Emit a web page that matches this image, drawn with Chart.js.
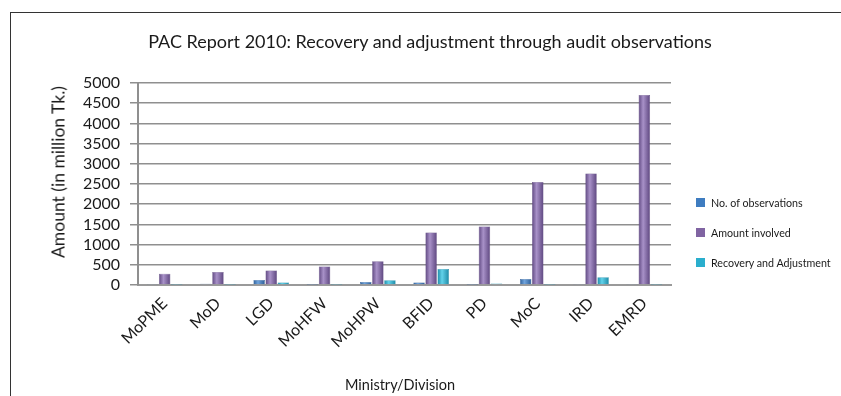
<!DOCTYPE html>
<html lang="en">
<head>
  <meta charset="UTF-8" />
  <title>PAC Report 2010</title>
  <script src="https://cdn.jsdelivr.net/npm/chart.js"></script>
  <style>
    html, body {
      margin: 0;
      padding: 0;
      background: #fff;
    }

    body {
      width: 841px;
      height: 396px;
      position: relative;
      overflow: hidden;
      font-family: Lato, 'Open Sans', sans-serif;
      color: #1a1a1a;
    }

    .frame {
      position: absolute;
      left: 10px;
      top: 12px;
      right: -2px;
      bottom: -2px;
      border-left: 1px solid #333;
      border-top: 1px solid #333;
    }

    #pacChart {
      position: absolute;
      left: 0;
      top: 0;
    }

    .title {
      position: absolute;
      left: 430px;
      top: 41px;
      transform: translate(-50%, -50%);
      white-space: nowrap;
      font-size: 18px;
    }

    .y-title {
      position: absolute;
      left: 58px;
      top: 172px;
      transform: translate(-50%, -50%) rotate(-90deg);
      white-space: nowrap;
      font-size: 17.5px;
    }

    .x-title {
      position: absolute;
      left: 400px;
      top: 384px;
      transform: translate(-50%, -50%);
      white-space: nowrap;
      font-size: 14.5px;
    }

    .legend {
      position: absolute;
      left: 696px;
      top: 187px;
      font-size: 10.7px;
    }

    .legend div {
      display: flex;
      align-items: center;
      height: 30px;
    }

    .legend span {
      width: 9px;
      height: 9px;
      margin-right: 6px;
    }
  </style>
</head>

<body>
  <div class="frame"></div>
  <canvas id="pacChart" width="841" height="396"></canvas>
  <div class="title">PAC Report 2010: Recovery and adjustment through audit observations</div>
  <div class="y-title">Amount (in million Tk.)</div>
  <div class="x-title">Ministry/Division</div>
  <div class="legend" id="legend"></div>

  <script>
    const categories = ["MoPME", "MoD", "LGD", "MoHFW", "MoHPW", "BFID", "PD", "MoC", "IRD", "EMRD"];
    const observations = [10, 30, 125, 5, 75, 60, 5, 150, 10, 25];
    const amountInvolved = [280, 320, 360, 460, 590, 1300, 1450, 2550, 2760, 4700];
    const recoveryAdjustment = [5, 5, 60, 5, 115, 395, 40, 5, 190, 5];
    const yMax = 5000;
    const yStep = 500;

    const CAT_PCT = 0.68;

    // shaded fill so the bars read a bit like the cylinders in the original
    function cylinder(base, light, dark) {
      return ctx => {
        const chart = ctx.chart;
        const xs = chart.scales.x;
        if (!xs || ctx.type !== "data" || !(xs.right > xs.left)) return base;
        const band = (xs.right - xs.left) / categories.length;
        const w = band * CAT_PCT / 3;
        const cx = xs.getPixelForValue(ctx.dataIndex) + (ctx.datasetIndex - 1) * w;
        if (!Number.isFinite(cx) || !Number.isFinite(w)) return base;
        const g = chart.ctx.createLinearGradient(cx - w / 2, 0, cx + w / 2, 0);
        g.addColorStop(0, dark);
        g.addColorStop(0.4, light);
        g.addColorStop(1, dark);
        return g;
      };
    }

    const series = [
      { label: "No. of observations", data: observations, color: "#3e7cc0", light: "#6fa3dc", dark: "#2a5a94" },
      { label: "Amount involved", data: amountInvolved, color: "#8064a2", light: "#a891c8", dark: "#5a437c" },
      { label: "Recovery and Adjustment", data: recoveryAdjustment, color: "#2aaecd", light: "#62d2ea", dark: "#1a86a3" }
    ];

    const ctx = document.getElementById("pacChart").getContext("2d");
    const chart = new Chart(ctx, {
      type: "bar",
      data: {
        labels: categories,
        datasets: series.map(s => ({
          label: s.label,
          data: s.data,
          backgroundColor: cylinder(s.color, s.light, s.dark),
          borderColor: s.dark,
          borderWidth: 0.5,
          categoryPercentage: CAT_PCT,
          barPercentage: 0.95
        }))
      },
      options: {
        responsive: false,
        animation: false,
        layout: {
          padding: { left: 10, right: 170, top: 83, bottom: 0 }
        },
        plugins: {
          legend: { display: false },
          title: { display: false },
          tooltip: { enabled: false }
        },
        scales: {
          x: {
            grid: { display: false, drawTicks: false },
            border: { color: "#9a9a9a", width: 2 },
            ticks: {
              color: "#1a1a1a",
              font: { family: "Lato", size: 16 },
              minRotation: 45,
              maxRotation: 45,
              autoSkip: false,
              padding: 9
            },
            afterFit: scale => { scale.height = 396 - 285; }
          },
          y: {
            min: 0,
            max: yMax,
            ticks: {
              stepSize: yStep,
              autoSkip: false,
              color: "#1a1a1a",
              font: { family: "Lato", size: 16 },
              padding: 10,
              callback: value => String(value)
            },
            grid: {
              color: "#8f8f8f",
              lineWidth: 1.5,
              tickLength: 8,
              tickColor: "#8f8f8f"
            },
            border: { color: "#8f8f8f", width: 2 },
            afterFit: scale => { scale.width = 128; }
          }
        }
      }
    });

    const legend = document.getElementById("legend");
    series.forEach(s => {
      const row = document.createElement("div");
      const box = document.createElement("span");
      box.style.background = s.color;
      row.appendChild(box);
      row.appendChild(document.createTextNode(s.label));
      legend.appendChild(row);
    });
  </script>
</body>
</html>
